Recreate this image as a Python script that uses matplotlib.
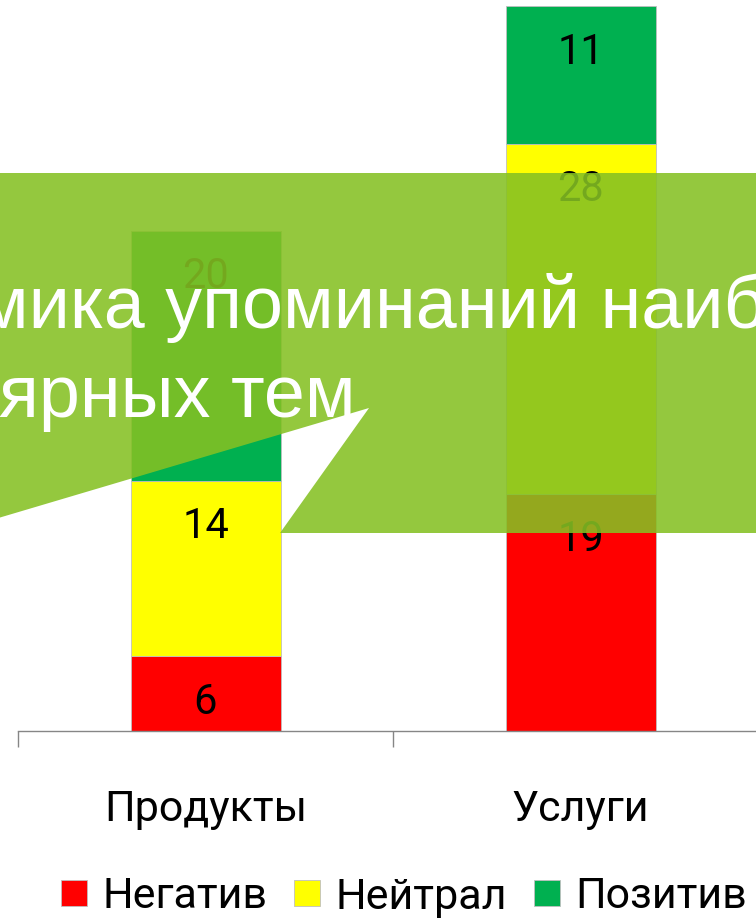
import matplotlib.pyplot as plt
from matplotlib.patches import Polygon

categories = ['Продукты', 'Услуги']
negative = [6, 19]
neutral = [14, 28]
positive = [20, 11]
series_names = ['Негатив', 'Нейтрал', 'Позитив']
colors = ['#FF0000', '#FFFF00', '#00B050']
title_lines = ['Динамика упоминаний наиболее', 'популярных тем']

W, H = 756, 924
fig = plt.figure(figsize=(W / 100, H / 100), dpi=100)

# axes in pixel terms: baseline at y=731, 12.5 px per unit, 375 px per category
ax = fig.add_axes([18 / W, (H - 731) / H, 750 / W, 750 / H])
ax.set_xlim(-0.5, 1.5)
ax.set_ylim(0, 60)

x = range(len(categories))
bottom = [0] * len(categories)
for vals, name, c in zip([negative, neutral, positive], series_names, colors):
  ax.bar(x, vals, 0.4, bottom=bottom, color=c, label=name,
         edgecolor='#bfbfbf', linewidth=0.6, zorder=2)
  for xi, b, v in zip(x, bottom, vals):
    ax.annotate(str(v), (xi, b + v), xytext=(0, -46), textcoords='offset pixels',
                ha='center', va='center', fontsize=30, family='Roboto', zorder=3)
  bottom = [b + v for b, v in zip(bottom, vals)]

for s in ['left', 'top', 'right']:
  ax.spines[s].set_visible(False)
ax.spines['bottom'].set_color('#868686')
ax.spines['bottom'].set_linewidth(1)
ax.set_yticks([])
ax.set_xticks(list(x), categories)
ax.set_xticks([-0.5, 0.5, 1.5], minor=True)
ax.tick_params(axis='x', which='major', length=0, pad=42, labelsize=31)
ax.tick_params(axis='x', which='minor', length=11.5, width=1, color='#868686')
for t in ax.get_xticklabels():
  t.set_family('Roboto')

leg = fig.legend(loc='center', bbox_to_anchor=(404 / W, 1 - 897 / H), ncol=3, frameon=False,
                 prop={'family': 'Roboto', 'size': 31}, handlelength=0.6, handleheight=0.55,
                 handletextpad=0.36, columnspacing=0.62)

# callout shape over the chart
pts = [(-5, 173), (W + 5, 173), (W + 5, 533), (280, 533), (369, 408), (-5, 519)]
poly = Polygon([(px / W, 1 - py / H) for px, py in pts], closed=True,
               transform=fig.transFigure, facecolor=(133 / 255, 193 / 255, 35 / 255),
               alpha=0.88, edgecolor='none', zorder=10)
fig.add_artist(poly)

tsize = 53
r = fig.canvas.get_renderer()
def text_w(s):
  t = fig.text(0, 0, s, fontsize=tsize, family='Liberation Sans')
  w = t.get_window_extent(r).width
  t.remove()
  return w

# line 1: "упоминаний" starts at x=165; line 2 ends at x=355
end1 = 165 + text_w('упоминаний наиболее')
for line, xe, base in zip(title_lines, [end1, 356], [328, 417]):
  fig.text(xe / W, 1 - base / H, line, fontsize=tsize, family='Liberation Sans',
           color='white', ha='right', va='baseline', zorder=11)

fig.savefig('out.png', dpi=100)
